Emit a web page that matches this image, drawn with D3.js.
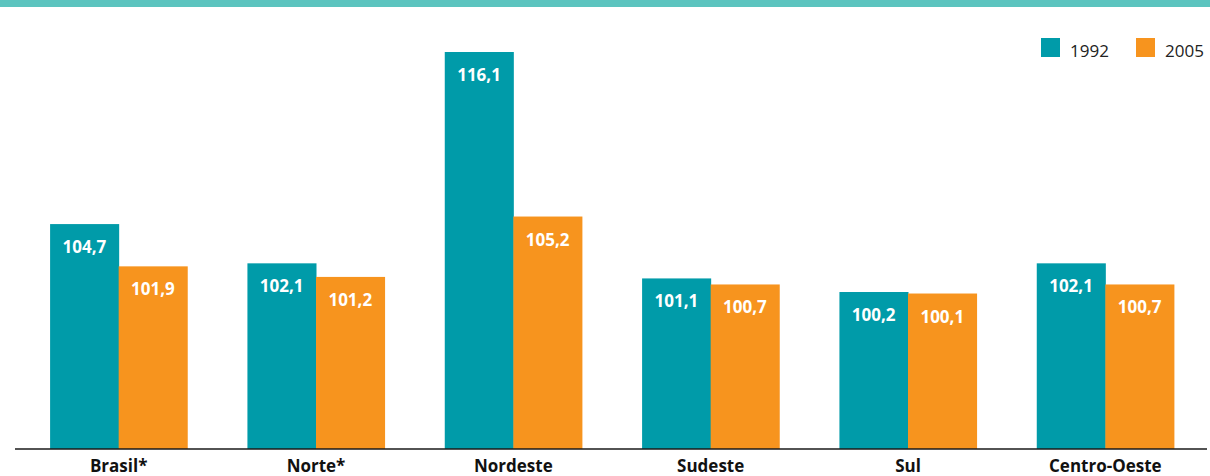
<!DOCTYPE html>
<html>
<head>
<meta charset="UTF-8">
<script src="https://cdn.jsdelivr.net/npm/d3@7"></script>
<style>
body { margin:0; background:#fff; }
svg text { font-family:"Open Sans", Arial, sans-serif; }
</style>
</head>
<body>
<svg id="chart" width="1210" height="476"></svg>
<script>
// ---- data ----
var categories = ["Brasil*", "Norte*", "Nordeste", "Sudeste", "Sul", "Centro-Oeste"]
var series = ["1992", "2005"]
var values1992 = [104.7, 102.1, 116.1, 101.1, 100.2, 102.1]
var values2005 = [101.9, 101.2, 105.2, 100.7, 100.1, 100.7]
var colors = ["#009ba9", "#f7941e"]

var svg = d3.select("#chart")

// top stripe
svg.append("rect")
  .attr("x", 0).attr("y", 0)
  .attr("width", 1210).attr("height", 7)
  .attr("fill", "#5cc4bf")

var x = d3.scaleBand()
  .domain(categories)
  .range([20, 1204])
  .paddingInner(0.305)
  .paddingOuter(0.1525)

var xs = d3.scaleBand()
  .domain(series)
  .range([0, x.bandwidth()])

var y = d3.scaleLinear()
  .domain([89.8, 116.1])
  .range([449, 52])

var rows = categories.map(function(c, i) {
  return { cat: c, vals: [values1992[i], values2005[i]] }
})

var groups = svg.selectAll("g.cat")
  .data(rows)
  .enter().append("g")
  .attr("class", "cat")
  .attr("transform", function(d) { return "translate(" + x(d.cat) + ",0)" })

groups.selectAll("rect")
  .data(function(d) { return d.vals.map(function(v, j) { return { s: series[j], v: v, j: j } }) })
  .enter().append("rect")
  .attr("x", function(d) { return xs(d.s) })
  .attr("y", function(d) { return y(d.v) })
  .attr("width", xs.bandwidth() + 0.5)
  .attr("height", function(d) { return y.range()[0] - y(d.v) })
  .attr("fill", function(d) { return colors[d.j] })

groups.selectAll("text.val")
  .data(function(d) { return d.vals.map(function(v, j) { return { s: series[j], v: v } }) })
  .enter().append("text")
  .attr("class", "val")
  .attr("x", function(d) { return xs(d.s) + xs.bandwidth() / 2 })
  .attr("y", function(d) { return y(d.v) + 29 })
  .attr("text-anchor", "middle")
  .attr("fill", "#fff")
  .attr("font-weight", "bold")
  .attr("font-size", "17px")
  .text(function(d) { return d.v.toFixed(1).replace(".", ",") })

// baseline axis
var axis = svg.append("g")
  .attr("transform", "translate(0," + y.range()[0] + ")")
  .call(d3.axisBottom(x).tickSize(0))
axis.select(".domain")
  .attr("d", "M15,0H1207")
  .attr("stroke", "#1a1a1a")
  .attr("stroke-width", 1.6)
axis.selectAll(".tick text")
  .attr("y", 23)
  .attr("dy", 0)
  .attr("font-family", "'Open Sans', Arial, sans-serif")
  .attr("font-size", "17px")
  .attr("font-weight", "bold")
  .attr("fill", "#111")

// legend
var legendX = [1041, 1136]
var legend = svg.selectAll("g.legend")
  .data(series)
  .enter().append("g")
  .attr("class", "legend")
  .attr("transform", function(d, i) { return "translate(" + legendX[i] + ",38)" })
legend.append("rect")
  .attr("width", 19).attr("height", 19)
  .attr("fill", function(d, i) { return colors[i] })
legend.append("text")
  .attr("x", 29).attr("y", 19)
  .attr("font-size", "17px")
  .attr("fill", "#222")
  .text(function(d) { return d })
</script>
</body>
</html>
